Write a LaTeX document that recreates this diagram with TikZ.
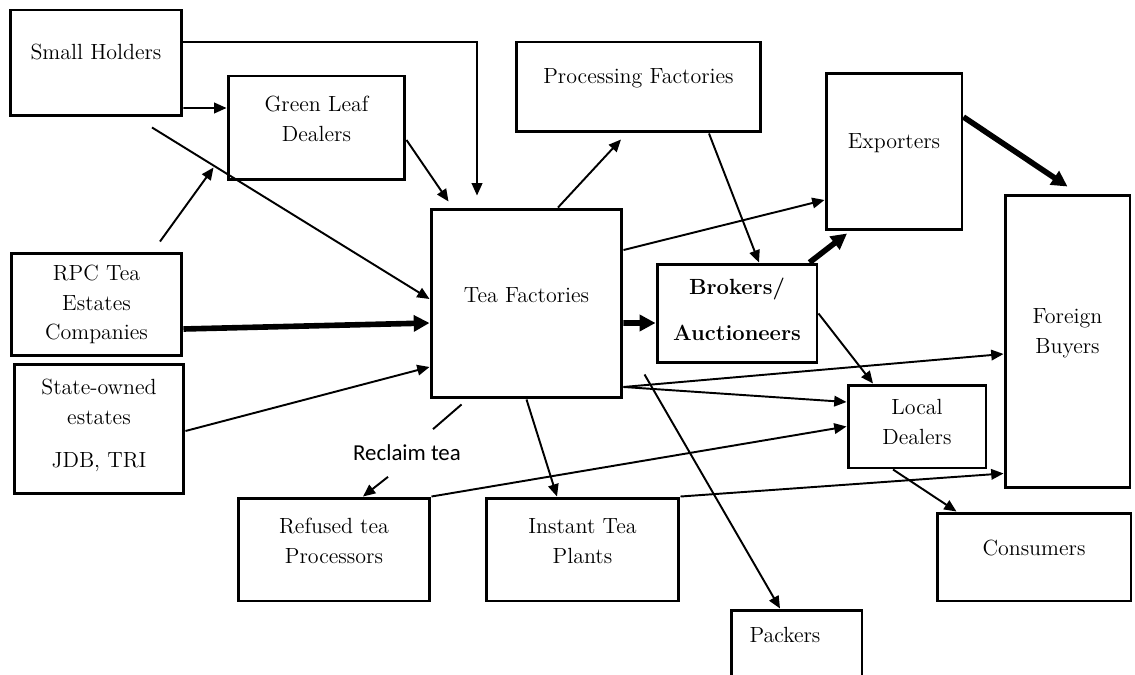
\documentclass[tikz,border=0pt]{standalone}
\usepackage{fontspec}
\newfontfamily\calibrifont{Carlito}
\usetikzlibrary{arrows.meta}

\begin{document}
\begin{tikzpicture}[x=0.02cm,y=-0.02cm,
  every node/.style={font=\fontsize{12.5}{17}\selectfont,align=center},
  box/.style={draw,line width=1.7pt,inner sep=0pt},
  flow/.style={line width=1.1pt,-{Triangle[length=7pt,width=6pt]}},
  bigflow/.style={line width=3.2pt,-{Triangle[length=9pt,width=9pt]}}]
\useasboundingbox (0,0) rectangle (1135,675);
% producers
\node[box,minimum width=3.44cm,minimum height=2.12cm,label={[yshift=0.22cm]center:Small Holders}] (small) at (96,63) {};
\node[box,minimum width=3.54cm,minimum height=2.08cm,label={[yshift=0.19cm]center:Green Leaf\\Dealers}] (green) at (316.5,128) {};
\node[box,minimum width=3.42cm,minimum height=2.06cm,label={center:RPC Tea\\Estates\\Companies}] (rpc) at (96.5,304.5) {};
\node[box,minimum width=3.4cm,minimum height=2.6cm,label={[yshift=0.08cm]center:State-owned\\estates\\[7.5pt]JDB, TRI}] (state) at (99,429) {};
% factories and trade
\node[box,minimum width=3.82cm,minimum height=3.78cm,label={[yshift=0.17cm]center:Tea Factories}] (tf) at (526.5,303.5) {};
\node[box,minimum width=4.9cm,minimum height=1.8cm,label={[yshift=0.18cm]center:Processing Factories}] (proc) at (638.5,87) {};
\node[box,minimum width=3.2cm,minimum height=1.98cm,label={[yshift=0.08cm]center:\textbf{Brokers/}\\[9.5pt]\textbf{Auctioneers}}] (brokers) at (737,313.5) {};
\node[box,minimum width=2.72cm,minimum height=3.14cm,label={[yshift=0.17cm]center:Exporters}] (exp) at (894,151.5) {};
\node[box,minimum width=2.5cm,minimum height=5.86cm,label={[yshift=0.17cm]center:Foreign\\Buyers}] (foreign) at (1067.5,341.5) {};
\node[box,minimum width=2.76cm,minimum height=1.66cm,label={[yshift=0.09cm]center:Local\\Dealers}] (local) at (917,426.5) {};
\node[box,minimum width=3.88cm,minimum height=1.76cm,label={[yshift=0.18cm]center:Consumers}] (consumers) at (1034,557) {};
\node[box,minimum width=3.84cm,minimum height=2.06cm,label={[yshift=0.17cm]center:Refused tea\\Processors}] (refused) at (334,549.5) {};
\node[box,minimum width=3.86cm,minimum height=2.06cm,label={[yshift=0.17cm]center:Instant Tea\\Plants}] (instant) at (582.5,549.5) {};
\node[box,minimum width=2.62cm,minimum height=1.6cm,label={[xshift=-0.23cm,yshift=0.3cm]center:Packers}] (packers) at (796.5,650) {};
\node[font=\calibrifont\fontsize{13}{15}\selectfont,minimum height=0.94cm,inner sep=0pt] (reclaim) at (407,453) {Reclaim tea};
% flows into the factories
\draw[flow] ([yshift=0.42cm]small.east) -| ([xshift=-0.99cm,yshift=0.24cm]tf.north);
\draw[flow] ([yshift=-0.9cm]small.east) -- ([yshift=0.4cm]green.west);
\draw[flow] ([xshift=1.12cm,yshift=-0.2cm]small.south) -- ([yshift=0.09cm]tf.west);
\draw[flow] ([xshift=1.27cm,yshift=0.2cm]rpc.north) -- ([xshift=-0.26cm,yshift=0.28cm]green.south west);
\draw[flow] ([yshift=-0.24cm]green.east) -- ([xshift=0.38cm,yshift=0.12cm]tf.north west);
\draw[bigflow] ([yshift=-0.49cm]rpc.east) -- ([yshift=-0.39cm]tf.west);
\draw[flow] ([yshift=-0.04cm]state.east) -- ([yshift=-1.27cm]tf.west);
% flows out of the factories
\draw[flow] ([xshift=0.63cm]tf.north) -- ([xshift=-0.35cm,yshift=-0.12cm]proc.south);
\draw[flow] ([xshift=1.41cm]proc.south) -- ([xshift=0.44cm]brokers.north);
\draw[flow] ([yshift=1.07cm]tf.east) -- ([yshift=-0.97cm]exp.west);
\draw[bigflow] ([yshift=-0.39cm]tf.east) -- ([yshift=-0.19cm]brokers.west);
\draw[bigflow] ([xshift=-0.18cm]brokers.north east) -- ([xshift=-0.94cm,yshift=-0.04cm]exp.south);
\draw[bigflow] ([yshift=0.69cm]exp.east) -- ([yshift=0.14cm]foreign.north);
\draw[flow] (brokers.east) -- ([xshift=-0.88cm]local.north);
\draw[flow] ([yshift=-1.67cm]tf.east) -- ([yshift=-0.25cm]foreign.west);
\draw[flow] ([yshift=-1.67cm]tf.east) -- ([yshift=0.49cm]local.west);
\draw[flow] (refused.north east) -- (local.west);
\draw[flow] (instant.north east) -- ([yshift=0.32cm]foreign.south west);
\draw[flow] (tf.south) -- ([xshift=-0.51cm]instant.north);
\draw[flow] ([xshift=-0.48cm]local.south) -- ([xshift=0.42cm]consumers.north west);
\draw[flow] ([xshift=-0.22cm,yshift=-0.2cm]brokers.south west) -- ([xshift=-0.33cm]packers.north);
% reclaim tea
\draw[line width=1.1pt] ([xshift=0.64cm,yshift=-0.1cm]tf.south west) -- ([xshift=0.52cm]reclaim.north);
\draw[flow] ([xshift=-0.38cm]reclaim.south) -- ([xshift=0.58cm]refused.north);
\end{tikzpicture}
\end{document}
